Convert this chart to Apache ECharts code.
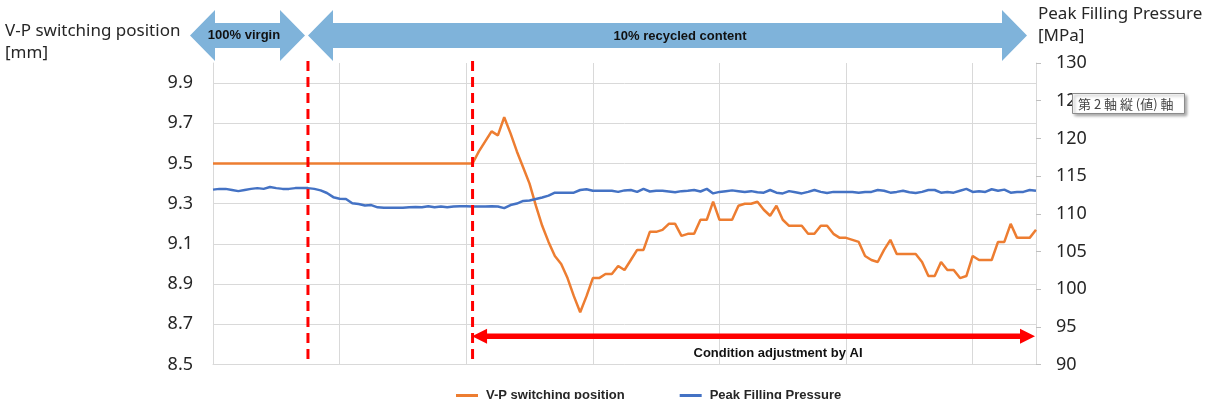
<!DOCTYPE html>
<html>
<head>
<meta charset="utf-8">
<script src="https://cdn.jsdelivr.net/npm/echarts@6/dist/echarts.min.js"></script>
<style>
  html, body { margin: 0; padding: 0; background: #fff; }
  #chart { width: 1208px; height: 399px; }
</style>
</head>
<body>
<div id="chart"></div>
<script>
// shot index along the x axis (no labels shown)
const shots = Array.from({ length: 131 }, (_, i) => String(i + 1))

// V-P switching position [mm]
const vpPosition = [
  9.5, 9.5, 9.5, 9.5, 9.5, 9.5, 9.5, 9.5, 9.5, 9.5,
  9.5, 9.5, 9.5, 9.5, 9.5, 9.5, 9.5, 9.5, 9.5, 9.5,
  9.5, 9.5, 9.5, 9.5, 9.5, 9.5, 9.5, 9.5, 9.5, 9.5,
  9.5, 9.5, 9.5, 9.5, 9.5, 9.5, 9.5, 9.5, 9.5, 9.5,
  9.5, 9.5, 9.56, 9.61, 9.66, 9.64, 9.73, 9.65, 9.56, 9.48,
  9.40, 9.29, 9.19, 9.11, 9.04, 9.00, 8.93, 8.84, 8.76, 8.84,
  8.93, 8.93, 8.95, 8.95, 8.99, 8.97, 9.02, 9.07, 9.07, 9.16,
  9.16, 9.17, 9.20, 9.20, 9.14, 9.15, 9.15, 9.22, 9.22, 9.31,
  9.22, 9.22, 9.22, 9.29, 9.30, 9.30, 9.31, 9.27, 9.24, 9.29,
  9.22, 9.19, 9.19, 9.19, 9.15, 9.15, 9.19, 9.19, 9.15, 9.13,
  9.13, 9.12, 9.11, 9.04, 9.02, 9.01, 9.07, 9.12, 9.05, 9.05,
  9.05, 9.05, 9.01, 8.94, 8.94, 9.01, 8.97, 8.97, 8.93, 8.94,
  9.04, 9.02, 9.02, 9.02, 9.11, 9.11, 9.20, 9.13, 9.13, 9.13,
  9.17
]

// Peak filling pressure [MPa]
const peakPressure = [
  113.2, 113.3, 113.3, 113.15, 113.0, 113.15, 113.3, 113.4, 113.3, 113.55,
  113.4, 113.3, 113.3, 113.4, 113.4, 113.4, 113.3, 113.1, 112.75, 112.2,
  112.0, 111.95, 111.4, 111.3, 111.1, 111.15, 110.85, 110.8, 110.8, 110.8,
  110.8, 110.85, 110.9, 110.85, 111.0, 110.85, 110.95, 110.85, 110.95, 111.0,
  111.0, 110.95, 110.95, 110.95, 111.0, 110.95, 110.75, 111.15, 111.35, 111.7,
  111.75, 111.95, 112.15, 112.4, 112.8, 112.8, 112.8, 112.8, 113.15, 113.25,
  113.05, 113.05, 113.05, 113.05, 112.9, 113.1, 113.15, 112.9, 113.3, 112.95,
  113.05, 113.05, 112.95, 112.85, 113.0, 113.05, 113.15, 112.95, 113.3, 112.7,
  112.9, 113.0, 113.1, 113.0, 112.9, 113.0, 112.85, 112.8, 113.15, 112.8,
  112.7, 113.0, 112.85, 112.7, 112.9, 113.15, 112.9, 112.75, 112.9, 112.9,
  112.9, 112.9, 112.8, 112.9, 112.9, 113.15, 113.05, 112.8, 112.9, 113.05,
  112.85, 112.75, 112.9, 113.15, 113.15, 112.8, 112.9, 112.8, 113.05, 113.3,
  112.9, 113.0, 112.9, 113.25, 113.05, 113.2, 112.8, 112.9, 112.9, 113.15,
  113.05
]

const seriesNames = ['V-P switching position', 'Peak Filling Pressure']
const leftAxis = { min: 8.5, max: 10.0, step: 0.2 }
const rightAxis = { min: 90, max: 130, step: 5 }
// shots where the red dashed markers sit (material change / AI start)
const markerShots = [15, 41]
const aiRange = [41, 130]
const aiArrowLevel = 8.64

const gridColor = '#d9d9d9'
const textColor = '#262626'
const arrowBlue = '#7fb3da'

const chart = echarts.init(document.getElementById('chart'))

const option = {
  animation: false,
  grid: { left: 213, right: 172, top: 63, bottom: 34.5 },
  legend: {
    data: seriesNames,
    left: 451,
    top: 384,
    icon: 'rect',
    itemWidth: 22,
    itemHeight: 3,
    itemGap: 55,
    textStyle: {
      fontFamily: 'Liberation Sans, Arial',
      fontWeight: 'bold',
      fontSize: 13,
      color: textColor,
      padding: [0, 0, 0, 3]
    }
  },
  xAxis: {
    type: 'category',
    data: shots,
    boundaryGap: false,
    axisLine: { show: true, lineStyle: { color: gridColor } },
    axisTick: { show: false },
    axisLabel: { show: false },
    splitLine: {
      show: true,
      interval: (i) => i % 20 === 0,
      lineStyle: { color: gridColor }
    }
  },
  yAxis: [
    {
      type: 'value',
      min: leftAxis.min,
      max: leftAxis.max,
      interval: leftAxis.step,
      axisLine: { show: true, lineStyle: { color: gridColor } },
      axisTick: { show: false },
      axisLabel: {
        margin: 20,
        fontFamily: 'Noto Sans',
        fontSize: 18,
        color: textColor,
        showMaxLabel: false,
        formatter: (v) => v.toFixed(1)
      },
      splitLine: { show: true, showMaxLine: false, lineStyle: { color: gridColor } }
    },
    {
      type: 'value',
      min: rightAxis.min,
      max: rightAxis.max,
      interval: rightAxis.step,
      axisLine: { show: true, lineStyle: { color: gridColor } },
      axisTick: { show: true, length: 5, lineStyle: { color: '#bfbfbf' } },
      axisLabel: {
        margin: 20,
        fontFamily: 'Noto Sans',
        fontSize: 18,
        color: textColor
      },
      splitLine: { show: false }
    }
  ],
  series: [
    {
      name: seriesNames[0],
      type: 'line',
      yAxisIndex: 0,
      data: vpPosition,
      showSymbol: false,
      lineStyle: { width: 2.5, color: '#ed7d31' },
      itemStyle: { color: '#ed7d31' }
    },
    {
      name: seriesNames[1],
      type: 'line',
      yAxisIndex: 1,
      data: peakPressure,
      showSymbol: false,
      lineStyle: { width: 2.5, color: '#4472c4' },
      itemStyle: { color: '#4472c4' }
    }
  ]
}
chart.setOption(option)

// annotations placed from the axes
const xOf = (i) => chart.convertToPixel({ xAxisIndex: 0 }, shots[i])
const yOf = (v) => chart.convertToPixel({ yAxisIndex: 0 }, v)

const graphics = []

// axis titles
graphics.push({
  type: 'text', left: 5, top: 20, z: 10,
  style: { text: 'V-P switching position\n[mm]', font: '17px "Noto Sans"', fill: textColor, lineHeight: 22 }
})
graphics.push({
  type: 'text', left: 1038, top: 3, z: 10,
  style: { text: 'Peak Filling Pressure\n[MPa]', font: '17px "Noto Sans"', fill: textColor, lineHeight: 22 }
})

// top block arrows
const blockArrow = (x1, x2, cy) => {
  const h = 25.5, s = 12.5, head = 25
  return [
    [x1, cy], [x1 + head, cy - h], [x1 + head, cy - s], [x2 - head, cy - s],
    [x2 - head, cy - h], [x2, cy], [x2 - head, cy + h], [x2 - head, cy + s],
    [x1 + head, cy + s], [x1 + head, cy + h]
  ]
}
graphics.push({ type: 'polygon', z: 5, shape: { points: blockArrow(190, 305, 35.5) }, style: { fill: arrowBlue } })
graphics.push({ type: 'polygon', z: 5, shape: { points: blockArrow(308, 1027, 35.5) }, style: { fill: arrowBlue } })
graphics.push({
  type: 'text', x: 244, y: 35, z: 6,
  style: { text: '100% virgin', font: 'bold 13px "Liberation Sans", Arial', fill: '#111', align: 'center', verticalAlign: 'middle' }
})
graphics.push({
  type: 'text', x: 680, y: 36, z: 6,
  style: { text: '10% recycled content', font: 'bold 13px "Liberation Sans", Arial', fill: '#111', align: 'center', verticalAlign: 'middle' }
})

// red dashed markers
markerShots.forEach((s) => {
  const x = xOf(s)
  graphics.push({
    type: 'line', z: 20,
    shape: { x1: x, y1: 61, x2: x, y2: yOf(leftAxis.min) },
    style: { stroke: '#ff0000', lineWidth: 3, lineDash: [10, 6] }
  })
})

// AI adjustment double arrow
const ax1 = xOf(aiRange[0]) - 0.5
const ax2 = xOf(aiRange[1]) - 1
const ay = yOf(aiArrowLevel)
graphics.push({
  type: 'line', z: 20,
  shape: { x1: ax1 + 12, y1: ay, x2: ax2 - 12, y2: ay },
  style: { stroke: '#ff0000', lineWidth: 5.5 }
})
graphics.push({
  type: 'polygon', z: 20,
  shape: { points: [[ax1, ay], [ax1 + 15, ay - 7.5], [ax1 + 15, ay + 7.5]] },
  style: { fill: '#ff0000' }
})
graphics.push({
  type: 'polygon', z: 20,
  shape: { points: [[ax2, ay], [ax2 - 15, ay - 7.5], [ax2 - 15, ay + 7.5]] },
  style: { fill: '#ff0000' }
})
graphics.push({
  type: 'text', x: 778, y: 353.5, z: 20,
  style: { text: 'Condition adjustment by AI', font: 'bold 13px "Liberation Sans", Arial', fill: '#111', align: 'center', verticalAlign: 'middle' }
})

// excel hover tip over the secondary axis
graphics.push({
  type: 'rect', z: 30,
  shape: { x: 1072.5, y: 93.5, width: 112, height: 20 },
  style: { fill: '#fff', stroke: '#8c8c8c', lineWidth: 1, shadowColor: 'rgba(0,0,0,0.35)', shadowBlur: 3, shadowOffsetX: 2, shadowOffsetY: 2 }
})
graphics.push({
  type: 'text', x: 1078, y: 104, z: 31,
  style: { text: '第 2 軸 縦 (値) 軸', font: '13px "Noto Sans CJK JP"', fill: '#444', verticalAlign: 'middle' }
})

chart.setOption({ graphic: graphics })
</script>
</body>
</html>
